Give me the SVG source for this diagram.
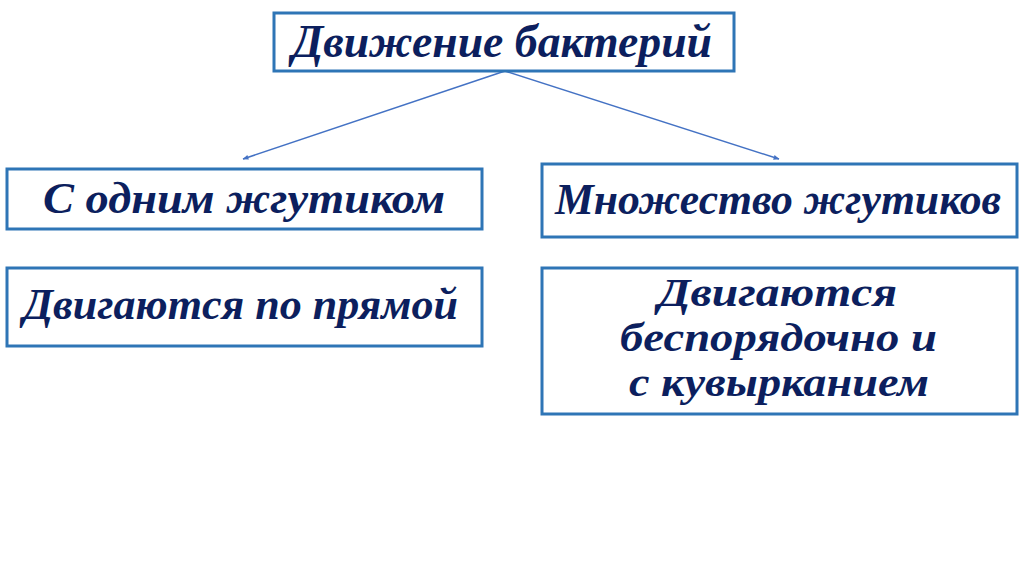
<svg xmlns="http://www.w3.org/2000/svg" width="1024" height="574" viewBox="0 0 1024 574">
<style>
.box{fill:#ffffff;stroke:#2E75B6;stroke-width:3}
.t{font-family:"Liberation Serif","DejaVu Serif",serif;font-weight:bold;font-style:italic;fill:#0C1F5E}
.c{stroke:#4472C4;stroke-width:1.5;fill:none}
</style>
<defs>
<marker id="ah" viewBox="0 0 10 10" refX="9" refY="5" markerWidth="6" markerHeight="6" orient="auto" markerUnits="userSpaceOnUse">
<path d="M0,1 L10,5 L0,9 Z" fill="#4472C4"/>
</marker>
</defs>
<rect width="1024" height="574" fill="#ffffff"/>
<g id="connectors">
<line class="c" x1="505" y1="71" x2="243" y2="159" marker-end="url(#ah)"/>
<line class="c" x1="505" y1="71" x2="779" y2="159" marker-end="url(#ah)"/>
</g>
<g id="root">
<rect class="box" x="274" y="13" width="460" height="58"/>
<text class="t" x="292" y="57" font-size="46" textLength="420" lengthAdjust="spacingAndGlyphs">Движение бактерий</text>
</g>
<g id="one">
<rect class="box" x="7" y="169" width="475" height="60"/>
<text class="t" x="43" y="213" font-size="45" textLength="402" lengthAdjust="spacingAndGlyphs">С одним жгутиком</text>
</g>
<g id="many">
<rect class="box" x="542" y="164" width="475" height="73"/>
<text class="t" x="555" y="214" font-size="45" textLength="446" lengthAdjust="spacingAndGlyphs">Множество жгутиков</text>
</g>
<g id="straight">
<rect class="box" x="7" y="268" width="475" height="78"/>
<text class="t" x="23" y="319" font-size="45" textLength="435" lengthAdjust="spacingAndGlyphs">Двигаются по прямой</text>
</g>
<g id="random">
<rect class="box" x="542" y="268" width="475" height="146"/>
<text class="t" x="658" y="306" font-size="41" textLength="239" lengthAdjust="spacingAndGlyphs">Двигаются</text>
<text class="t" x="620" y="351" font-size="41" textLength="317" lengthAdjust="spacingAndGlyphs">беспорядочно и</text>
<text class="t" x="629" y="396" font-size="41" textLength="300" lengthAdjust="spacingAndGlyphs">с кувырканием</text>
</g>
</svg>
